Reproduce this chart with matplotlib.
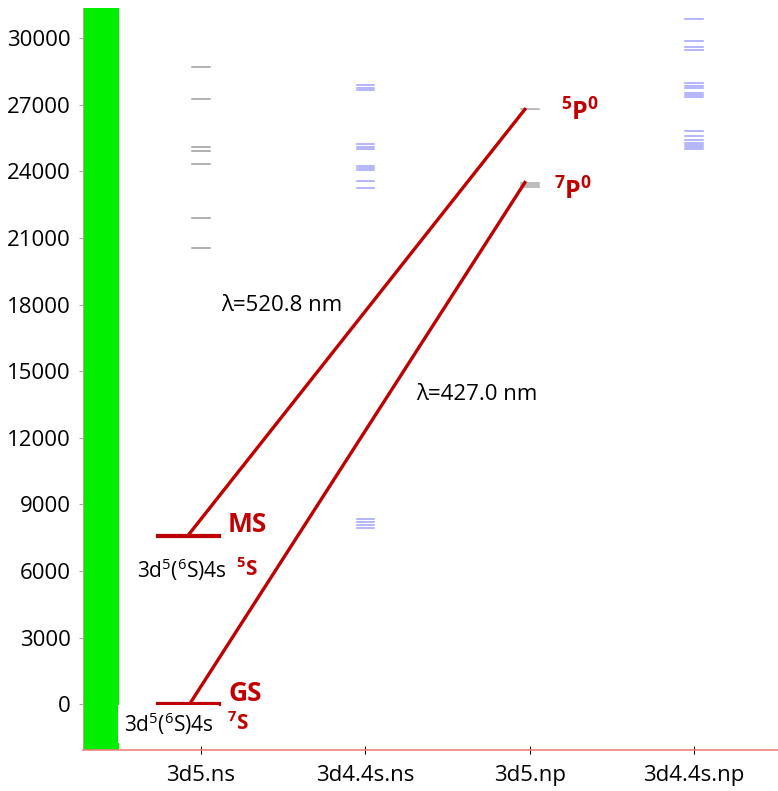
import matplotlib
matplotlib.use("Agg")
import matplotlib.pyplot as plt

plt.rcParams['font.family'] = ['Open Sans', 'DejaVu Sans']
plt.rcParams['mathtext.default'] = 'regular'

# configurations on the x axis
configs = ["3d5.ns", "3d4.4s.ns", "3d5.np", "3d4.4s.np"]
tick_colors = ["#808080", "#8080ff", "#808080", "#8080ff"]

# energy levels (cm-1) for each configuration
lv_3d5_ns = [28720, 27245, 25080, 24910, 24345, 21890, 20570]
lv_3d44s_ns = [27890, 27770, 27650, 25230, 25110, 24990, 24240, 24150, 24060,
               23560, 23230, 8345, 8210, 8075, 7925]
lv_3d5_np = [26794, 23499, 23386, 23305]
lv_3d44s_np = [30870, 29880, 29610, 29480, 27970, 27860, 27740, 27550, 27440,
               27330, 25830, 25610, 25420, 25290, 25180, 25080, 25000]

# states used for the two transitions
gs_energy = 0
ms_energy = 7593
p5_energy = 26794
p7_energy = 23499

red = "#c00000"

fig = plt.figure(figsize=(7.78, 7.91), dpi=100)
ax = fig.add_axes([0.1067, 0.052, 0.8933, 0.938])
ax.set_xlim(-0.718, 3.51)
ax.set_ylim(-2058, 31365)

# green bar on the left
ax.axvspan(-0.718, -0.505, color="#00ee00", zorder=1)

hw = 0.053
for x, lv, col in [(0, lv_3d5_ns, "#8a8a8a"), (1, lv_3d44s_ns, "#9090f8"),
                   (2, lv_3d5_np, "#999999"), (3, lv_3d44s_np, "#9090f8")]:
    for e in lv:
        ax.plot([x - hw, x + hw], [e, e], color=col, lw=1.1, alpha=0.85, zorder=2)

# ground and metastable levels
ax.plot([-0.26, 0.11], [gs_energy, gs_energy], color=red, lw=3, zorder=3)
ax.plot([-0.26, 0.11], [ms_energy, ms_energy], color=red, lw=3, zorder=3)

# transitions
ax.plot([-0.08, 1.97], [ms_energy, p5_energy], color=red, lw=2.4, zorder=3)
ax.plot([-0.07, 1.97], [gs_energy, p7_energy], color=red, lw=2.4, zorder=3)

ax.text(0.49, 17950, "λ=520.8 nm", fontsize=16, ha="center", va="center")
ax.text(1.68, 13950, "λ=427.0 nm", fontsize=16, ha="center", va="center")

ax.text(0.164, 8100, "MS", color=red, fontsize=19, fontweight="bold",
        va="center", ha="left")
ax.text(0.17, 500, "GS", color=red, fontsize=19, fontweight="bold",
        va="center", ha="left")
ax.text(2.19, 26650, "$^5$P$^0$", color=red, fontsize=18, fontweight="bold",
        va="center", ha="left")
ax.text(2.145, 23050, "$^7$P$^0$", color=red, fontsize=18, fontweight="bold",
        va="center", ha="left")

ax.text(0.158, 6050, "3d$^5$($^6$S)4s", fontsize=15, ha="right", va="center",
        zorder=4)
ax.text(0.215, 6050, "$^5$S", color=red, fontsize=15, fontweight="bold",
        ha="left", va="center", zorder=4)
ax.text(0.075, -880, "3d$^5$($^6$S)4s", fontsize=15, ha="right", va="center",
        zorder=4, bbox=dict(facecolor="white", edgecolor="none", pad=4))
ax.text(0.16, -880, "$^7$S", color=red, fontsize=15, fontweight="bold",
        ha="left", va="center", zorder=4)

ax.set_yticks(range(0, 30001, 3000))
ax.set_xticks(range(len(configs)))
ax.set_xticklabels(configs)
ax.tick_params(axis="y", labelsize=16, length=3, color="#aaaaaa", pad=6)
ax.tick_params(axis="x", labelsize=16, length=6, direction="inout", pad=8)
for t, c in zip(ax.xaxis.get_major_ticks(), tick_colors):
    t.tick1line.set_color(c)

for s in ["top", "right"]:
    ax.spines[s].set_visible(False)
ax.spines["left"].set_color("#c8a070")
ax.spines["left"].set_linewidth(0.8)
ax.spines["bottom"].set_color("#f08080")
ax.spines["bottom"].set_linewidth(1.2)

fig.savefig("out.png", dpi=100)
